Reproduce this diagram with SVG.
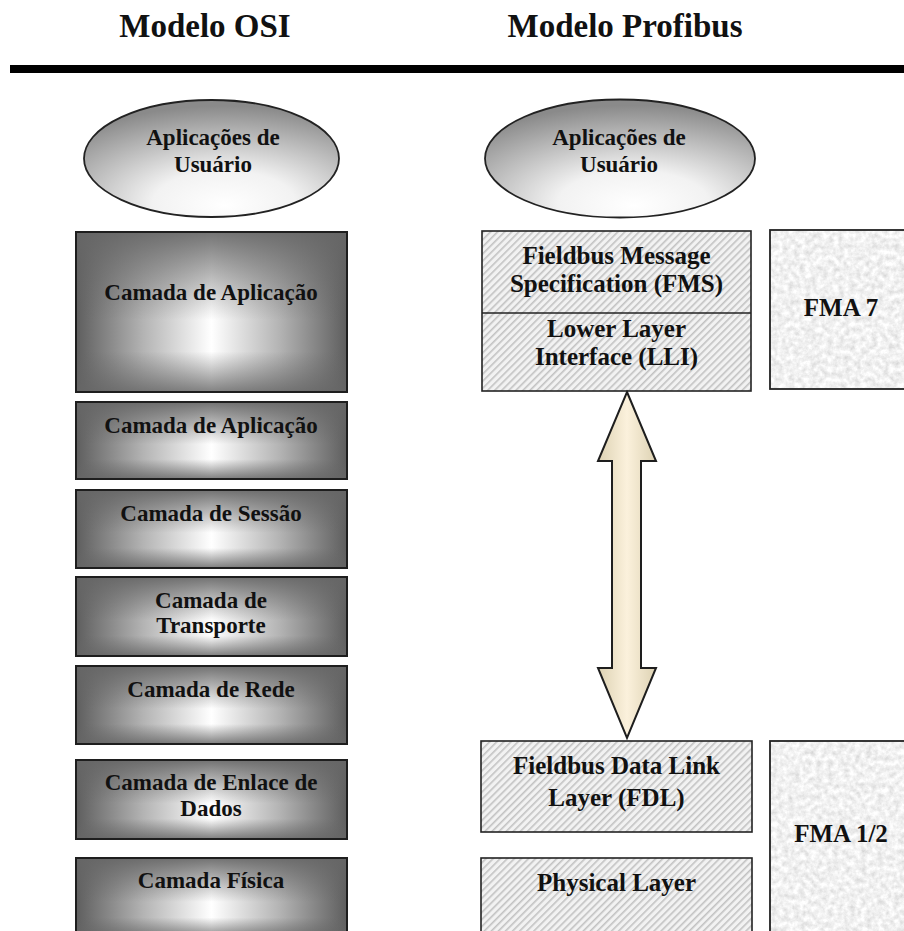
<svg xmlns="http://www.w3.org/2000/svg" width="904" height="931" viewBox="0 0 904 931">
<style>
text{font-family:"Liberation Serif","Times New Roman",serif;font-weight:bold;fill:#111;text-anchor:middle}
.title{font-size:33px}
.osi{font-size:23px}
.eltx{font-size:23px}
.pf{font-size:25px}
.box{stroke:#1e1e1e;stroke-width:2}
.ov{fill:url(#vshade)}
.hatch{fill:url(#hatch);stroke:#222;stroke-width:1.6}
.ell{fill:url(#ellg);stroke:#222;stroke-width:1.8}
.fma{fill:#dcdcdc;filter:url(#granite)}
.fmab{fill:none;stroke:#222;stroke-width:1.8}
</style>
<defs>
<linearGradient id="hshade" x1="0" y1="0" x2="1" y2="0">
<stop offset="0" stop-color="#5e5e5e"/>
<stop offset="0.25" stop-color="#b4b4b4"/>
<stop offset="0.5" stop-color="#ffffff"/>
<stop offset="0.75" stop-color="#b4b4b4"/>
<stop offset="1" stop-color="#5e5e5e"/>
</linearGradient>
<linearGradient id="vshade" x1="0" y1="0" x2="0" y2="1">
<stop offset="0" stop-color="#666666" stop-opacity="0.9"/>
<stop offset="0.55" stop-color="#666666" stop-opacity="0"/>
<stop offset="0.75" stop-color="#666666" stop-opacity="0"/>
<stop offset="1" stop-color="#666666" stop-opacity="0.8"/>
</linearGradient>
<radialGradient id="ellg" cx="0.55" cy="0.85" r="0.8" fx="0.55" fy="0.9">
<stop offset="0" stop-color="#ffffff"/>
<stop offset="0.35" stop-color="#f2f2f2"/>
<stop offset="1" stop-color="#8a8a8a"/>
</radialGradient>
<linearGradient id="arrg" x1="0" y1="0" x2="1" y2="0">
<stop offset="0" stop-color="#ddd2b3"/>
<stop offset="0.5" stop-color="#fbf1dc"/>
<stop offset="1" stop-color="#ddd2b3"/>
</linearGradient>
<pattern id="hatch" patternUnits="userSpaceOnUse" width="5" height="5" patternTransform="rotate(-45)">
<rect width="5" height="5" fill="#f2f2f2"/>
<rect width="5" height="1.6" fill="#c2c2c2"/>
</pattern>
<filter id="granite" x="0" y="0" width="1" height="1">
<feTurbulence type="fractalNoise" baseFrequency="0.18" numOctaves="4" seed="5" result="n"/>
<feColorMatrix in="n" type="matrix" values="0.5 0 0 0 0.63  0.5 0 0 0 0.63  0.5 0 0 0 0.63  0 0 0 0 1" result="g"/>
<feComposite in="g" in2="SourceGraphic" operator="in"/>
</filter>
</defs>
<rect width="904" height="931" fill="#ffffff"/>

<g id="titles">
<text class="title" x="205" y="37">Modelo OSI</text>
<text class="title" x="625" y="37">Modelo Profibus</text>
<rect x="10" y="65" width="894" height="8" fill="#000"/>
</g>

<g id="osi-app-user">
<ellipse class="ell" cx="211.5" cy="158.5" rx="127.5" ry="58.5"/>
<text class="eltx" x="213" y="145">Aplicações de</text>
<text class="eltx" x="213" y="172">Usuário</text>
</g>

<g id="osi-1">
<rect class="box" x="76" y="232" width="271" height="160" fill="url(#hshade)"/>
<rect class="ov" x="77" y="233" width="269" height="158"/>
<text class="osi" x="211" y="300">Camada de Aplicação</text>
</g>
<g id="osi-2">
<rect class="box" x="76" y="402" width="271" height="77" fill="url(#hshade)"/>
<rect class="ov" x="77" y="403" width="269" height="75"/>
<text class="osi" x="211" y="433">Camada de Aplicação</text>
</g>
<g id="osi-3">
<rect class="box" x="76" y="490" width="271" height="78" fill="url(#hshade)"/>
<rect class="ov" x="77" y="491" width="269" height="76"/>
<text class="osi" x="211" y="521">Camada de Sessão</text>
</g>
<g id="osi-4">
<rect class="box" x="76" y="577" width="271" height="79" fill="url(#hshade)"/>
<rect class="ov" x="77" y="578" width="269" height="77"/>
<text class="osi" x="211" y="608">Camada de</text>
<text class="osi" x="211" y="633">Transporte</text>
</g>
<g id="osi-5">
<rect class="box" x="76" y="666" width="271" height="78" fill="url(#hshade)"/>
<rect class="ov" x="77" y="667" width="269" height="76"/>
<text class="osi" x="211" y="697">Camada de Rede</text>
</g>
<g id="osi-6">
<rect class="box" x="76" y="760" width="271" height="79" fill="url(#hshade)"/>
<rect class="ov" x="77" y="761" width="269" height="77"/>
<text class="osi" x="211" y="790">Camada de Enlace de</text>
<text class="osi" x="211" y="816">Dados</text>
</g>
<g id="osi-7">
<rect class="box" x="76" y="858" width="271" height="80" fill="url(#hshade)"/>
<rect class="ov" x="77" y="859" width="269" height="78"/>
<text class="osi" x="211" y="888">Camada Física</text>
</g>

<g id="pf-app-user">
<ellipse class="ell" cx="620" cy="158.5" rx="135" ry="59"/>
<text class="eltx" x="619" y="145">Aplicações de</text>
<text class="eltx" x="619" y="172">Usuário</text>
</g>

<g id="pf-fms-lli">
<rect class="hatch" x="482" y="231" width="269" height="160"/>
<line x1="482" y1="313" x2="751" y2="313" stroke="#222" stroke-width="1.6"/>
<text class="pf" x="616.5" y="264">Fieldbus Message</text>
<text class="pf" x="616.5" y="292">Specification (FMS)</text>
<text class="pf" x="616.5" y="337">Lower Layer</text>
<text class="pf" x="616.5" y="365">Interface (LLI)</text>
</g>

<g id="pf-fma7">
<rect class="fma" x="770" y="230" width="140" height="159"/>
<rect class="fmab" x="770" y="230" width="140" height="159"/>
<text class="pf" x="841" y="316">FMA 7</text>
</g>

<g id="pf-fdl">
<rect class="hatch" x="481" y="741" width="271" height="91"/>
<text class="pf" x="616.5" y="774">Fieldbus Data Link</text>
<text class="pf" x="616.5" y="806">Layer (FDL)</text>
</g>

<g id="pf-phys">
<rect class="hatch" x="481" y="858" width="271" height="80"/>
<text class="pf" x="616.5" y="891">Physical Layer</text>
</g>

<g id="pf-fma12">
<rect class="fma" x="770" y="741" width="140" height="200"/>
<rect class="fmab" x="770" y="741" width="140" height="200"/>
<text class="pf" x="841" y="842">FMA 1/2</text>
</g>

<g id="connectors">
<path d="M627,392 L656,461 L641,461 L641,668 L656,668 L627,738 L598,668 L612,668 L612,461 L598,461 Z" fill="url(#arrg)" stroke="#1e1e1e" stroke-width="2" stroke-linejoin="miter"/>
</g>
</svg>
